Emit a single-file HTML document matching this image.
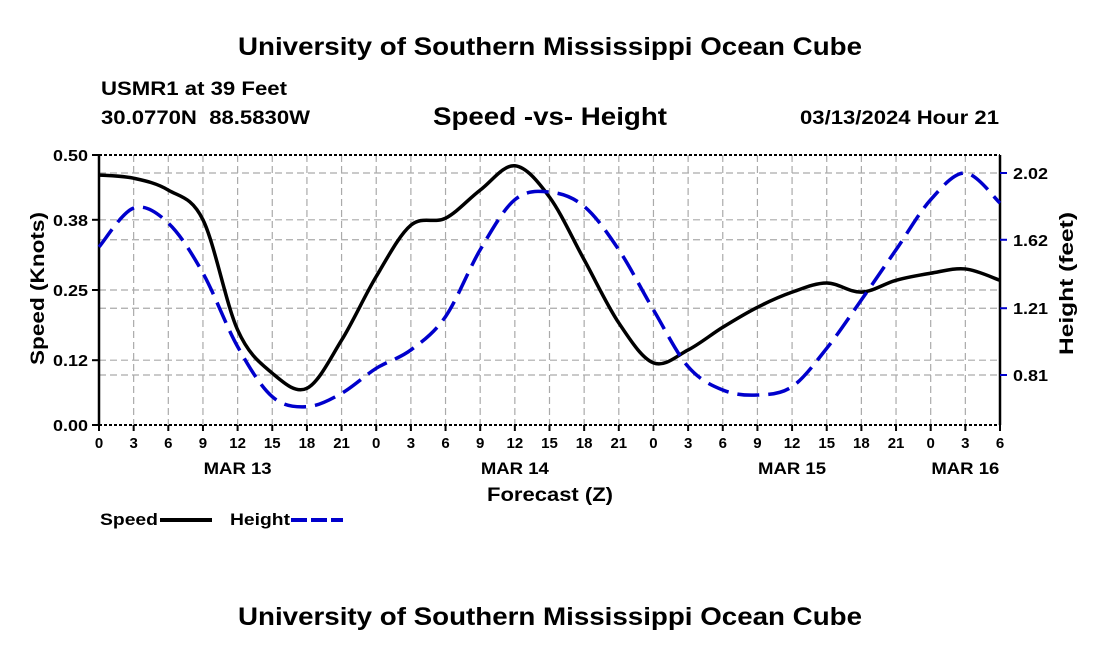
<!DOCTYPE html>
<html><head><meta charset="utf-8"><style>
body{margin:0;background:#fff;width:1100px;height:650px;overflow:hidden;font-family:"Liberation Sans",sans-serif}
</style></head><body>
<svg id="c" width="1100" height="650" xmlns="http://www.w3.org/2000/svg" font-family="Liberation Sans, sans-serif" font-weight="bold">
<text x="238" y="55" font-size="25" textLength="624" lengthAdjust="spacingAndGlyphs">University of Southern Mississippi Ocean Cube</text>
<text x="101" y="95" font-size="19" textLength="186" lengthAdjust="spacingAndGlyphs">USMR1 at 39 Feet</text>
<text x="101" y="124" font-size="19" textLength="209" lengthAdjust="spacingAndGlyphs" xml:space="preserve">30.0770N  88.5830W</text>
<text x="433" y="125" font-size="25" textLength="234" lengthAdjust="spacingAndGlyphs">Speed -vs- Height</text>
<text x="800" y="124" font-size="19" textLength="199" lengthAdjust="spacingAndGlyphs">03/13/2024 Hour 21</text>
<text x="238" y="625" font-size="25" textLength="624" lengthAdjust="spacingAndGlyphs">University of Southern Mississippi Ocean Cube</text>
<g id="grid"></g><g id="axes"></g><g id="series"></g>
<text x="487" y="501" font-size="19" textLength="126" lengthAdjust="spacingAndGlyphs">Forecast (Z)</text>
<text transform="translate(44,365) rotate(-90)" font-size="19" textLength="153" lengthAdjust="spacingAndGlyphs">Speed (Knots)</text>
<text transform="translate(1073,355) rotate(-90)" font-size="19" textLength="143" lengthAdjust="spacingAndGlyphs">Height (feet)</text>
<g>
<text x="100" y="525" font-size="17" textLength="58" lengthAdjust="spacingAndGlyphs">Speed</text>
<line x1="160" y1="520" x2="212" y2="520" stroke="#000" stroke-width="4"/>
<text x="230" y="525" font-size="17" textLength="60" lengthAdjust="spacingAndGlyphs">Height</text>
<line x1="291" y1="520" x2="343" y2="520" stroke="#00c" stroke-width="4" stroke-dasharray="16,4"/>
</g>
</svg>
<script>
const hours=[0,3,6,9,12,15,18,21,24,27,30,33,36,39,42,45,48,51,54,57,60,63,66,69,72,75,78];
const speed=[0.463,0.457,0.435,0.38,0.176,0.096,0.068,0.157,0.275,0.37,0.383,0.435,0.48,0.422,0.306,0.189,0.115,0.139,0.181,0.218,0.246,0.263,0.246,0.268,0.281,0.289,0.268];
const height=[1.577,1.81,1.72,1.42,0.98,0.68,0.62,0.70,0.85,0.96,1.16,1.56,1.86,1.906,1.82,1.56,1.20,0.86,0.72,0.69,0.74,0.97,1.26,1.56,1.86,2.02,1.84];
const leftTicks=[0,0.12,0.25,0.38,0.50];
const leftTickLabels=["0.00","0.12","0.25","0.38","0.50"];
const rightTicks=[0.81,1.21,1.62,2.02];
const dayLabels=["MAR 13","MAR 14","MAR 15","MAR 16"];
const NS="http://www.w3.org/2000/svg";
const X0=99,X1=1000,Y0=425,Y1=155;
const xs=h=>X0+(X1-X0)*h/78;
const ysL=v=>Y0-(Y0-Y1)*v/0.5;
const ysR=f=>173+(2.02-f)*(375-173)/(2.02-0.81);
function mk(p,t,a){const e=document.createElementNS(NS,t);for(const k in a)e.setAttribute(k,a[k]);p.appendChild(e);return e;}
const grid=document.getElementById('grid'),axes=document.getElementById('axes'),ser=document.getElementById('series');
for(let h=3;h<78;h+=3){const g=mk(grid,'line',{x1:xs(h),x2:xs(h),y1:Y1,y2:Y0,stroke:'#aaa','stroke-dasharray':'7,4','stroke-width':1.2});

}
leftTicks.forEach(v=>{if(v>0&&v<0.5){const g=mk(grid,'line',{x1:X0,x2:X1,y1:ysL(v),y2:ysL(v),stroke:'#aaa','stroke-dasharray':'7,4','stroke-width':1.2});

}});
rightTicks.forEach(f=>{const g=mk(grid,'line',{x1:X0,x2:X1,y1:ysR(f),y2:ysR(f),stroke:'#aaa','stroke-dasharray':'7,4','stroke-width':1.2});

});
[Y1,Y0].forEach(y=>{const b=mk(axes,'line',{x1:X0,x2:X1,y1:y,y2:y,stroke:'#000','stroke-width':2,'stroke-dasharray':'3,2'});

});
[X0,X1].forEach(x=>{const b=mk(axes,'line',{x1:x,x2:x,y1:Y1,y2:Y0,stroke:'#000','stroke-width':2.5});

});
leftTicks.forEach((v,i)=>{mk(axes,'line',{x1:X0-7,x2:X0,y1:ysL(v),y2:ysL(v),stroke:'#000','stroke-width':2});
const t=mk(axes,'text',{x:X0-11,y:ysL(v)+6,'text-anchor':'end','font-size':16,textLength:35,lengthAdjust:'spacingAndGlyphs'});t.textContent=leftTickLabels[i];

});
rightTicks.forEach(f=>{mk(axes,'line',{x1:X1,x2:X1+7,y1:ysR(f),y2:ysR(f),stroke:'#00c','stroke-width':2});
const t=mk(axes,'text',{x:X1+13,y:ysR(f)+6,'font-size':16,textLength:35,lengthAdjust:'spacingAndGlyphs'});t.textContent=f.toFixed(2);

});
for(let h=0;h<=78;h+=3){mk(axes,'line',{x1:xs(h),x2:xs(h),y1:Y0,y2:Y0+6,stroke:'#000','stroke-width':2});
const t=mk(axes,'text',{x:xs(h),y:Y0+23,'text-anchor':'middle','font-size':15});t.textContent=String(h%24);

}
dayLabels.forEach((d,i)=>{const t=mk(axes,'text',{x:(i==3?xs(75):xs(12+24*i))-34,y:Y0+49,'font-size':17,textLength:68,lengthAdjust:'spacingAndGlyphs'});t.textContent=d;

});
function path(pts){let d='M'+pts[0][0]+','+pts[0][1];for(let i=0;i<pts.length-1;i++){const p0=pts[Math.max(0,i-1)],p1=pts[i],p2=pts[i+1],p3=pts[Math.min(pts.length-1,i+2)];
d+=' C'+(p1[0]+(p2[0]-p0[0])/6)+','+(p1[1]+(p2[1]-p0[1])/6)+' '+(p2[0]-(p3[0]-p1[0])/6)+','+(p2[1]-(p3[1]-p1[1])/6)+' '+p2[0]+','+p2[1];}return d;}
const ps=mk(ser,'path',{d:path(hours.map((h,i)=>[xs(h),ysL(speed[i])])),fill:'none',stroke:'#000','stroke-width':3.5});


const ph=mk(ser,'path',{d:path(hours.map((h,i)=>[xs(h),ysR(height[i])])),fill:'none',stroke:'#00c','stroke-width':3.5,'stroke-dasharray':'22,9'});


</script>
</body></html>
